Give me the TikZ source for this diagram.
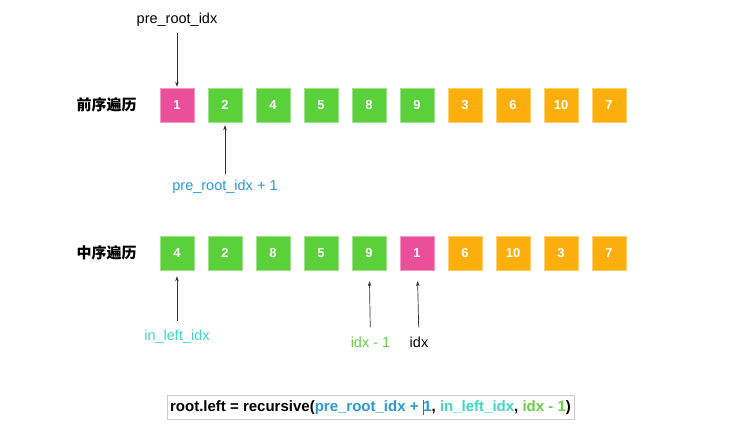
\documentclass[tikz,border=0pt]{standalone}
\usepackage{fontspec}
\setmainfont{Liberation Sans}
\newfontfamily\cjk{Noto Sans CJK SC}
\usetikzlibrary{positioning,arrows.meta}

\definecolor{rootpink}{HTML}{EC4F99}
\definecolor{leftgreen}{HTML}{5AD03B}
\definecolor{rightorange}{HTML}{FCAF0C}
\definecolor{preblue}{HTML}{2A9AD8}
\definecolor{inteal}{HTML}{3FD8C4}
\definecolor{idxgreen}{HTML}{6CCF4A}
\definecolor{arrowgray}{HTML}{333333}

\tikzset{
	cell/.style={minimum size=34pt, inner sep=0pt, fill=#1, draw=#1!60!white,
		text=white, font=\bfseries\fontsize{13}{13}\selectfont},
	rowlabel/.style={font=\cjk\bfseries\fontsize{15}{15}\selectfont},
	idxlabel/.style={inner sep=0pt, font=\fontsize{14.5}{14.5}\selectfont},
	pointer/.style={-{Stealth[length=5pt,width=3.5pt]}, arrowgray, line width=0.7pt}
}

\begin{document}
\begin{tikzpicture}[x=1pt, y=-1pt]

	\useasboundingbox[fill=white] (0,0) rectangle (735,445);

	% preorder row
	\node[rowlabel] (prelabel) at (106.5,105) {前序遍历};
	\foreach \v/\c [count=\i] in {1/rootpink, 2/leftgreen, 4/leftgreen, 5/leftgreen,
			8/leftgreen, 9/leftgreen, 3/rightorange, 6/rightorange, 10/rightorange, 7/rightorange}
		\node[cell=\c] (p\i) at ({177+48*(\i-1)},105) {\v};

	% inorder row
	\node[rowlabel] (inlabel) at (106.5,253) {中序遍历};
	\foreach \v/\c [count=\i] in {4/leftgreen, 2/leftgreen, 8/leftgreen, 5/leftgreen,
			9/leftgreen, 1/rootpink, 6/rightorange, 10/rightorange, 3/rightorange, 7/rightorange}
		\node[cell=\c] (i\i) at ({177+48*(\i-1)},253) {\v};

	% pointers
	\node[idxlabel] (preroot) at (177,20) {pre\_root\_idx};
	\draw[pointer, shorten <=6pt, shorten >=1pt] (preroot) -- (p1);

	\node[idxlabel, text=preblue] (prenext) at (225,187) {pre\_root\_idx + 1};
	\draw[pointer, shorten <=6pt, shorten >=3pt] (prenext) -- (p2);

	\node[idxlabel, text=inteal] (inleft) at (177,337) {in\_left\_idx};
	\draw[pointer, shorten <=9pt, shorten >=6pt] (inleft) -- (i1);

	\node[idxlabel, text=idxgreen] (idxprev) at (370.5,342) {idx - 1};
	\draw[pointer, shorten <=9pt, shorten >=11pt] (idxprev) -- (i5);

	\node[idxlabel] (idx) at (419,342) {idx};
	\draw[pointer, shorten <=9pt, shorten >=11pt] (idx) -- (i6);

	% code line
	\node[draw=black!20, line width=0.6pt, minimum width=407pt, minimum height=24pt,
		inner sep=0pt, font=\bfseries\fontsize{15}{15}\selectfont] (code) at (370.5,407.5)
		{root.left = recursive(\textcolor{preblue}{pre\_root\_idx + }{\color{black!60}\rule[-3pt]{0.6pt}{15pt}}\textcolor{preblue}{1}, \textcolor{inteal}{in\_left\_idx}, \textcolor{idxgreen}{idx - 1})};

\end{tikzpicture}
\end{document}
